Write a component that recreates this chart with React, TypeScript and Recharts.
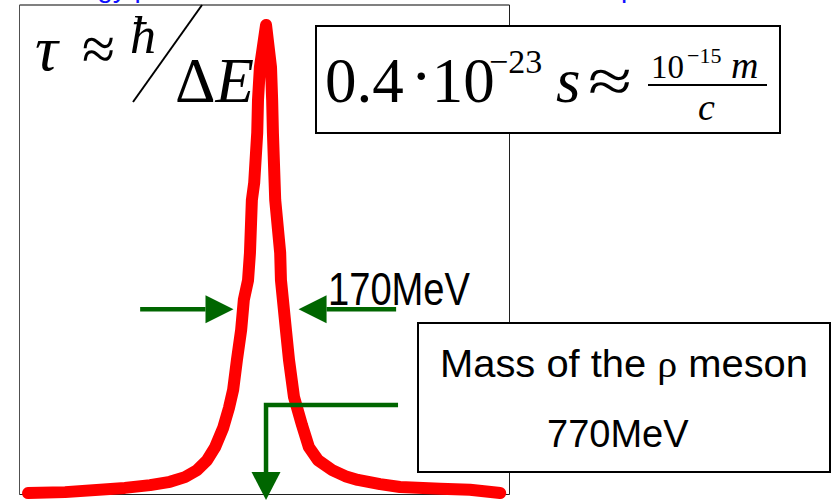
import React from 'react';
import { LineChart, Line, XAxis, YAxis, ReferenceLine } from 'recharts';

// Resonance line shape of the rho meson: invariant mass (MeV) vs. relative intensity
const massMeV = [
  148, 245, 401, 467, 519, 558, 590, 616, 637, 658, 673, 684, 694, 705, 712, 723,
  728, 733, 739, 747, 749, 754, 770,
  783, 786, 788, 794, 807, 809, 822, 830, 843, 864, 882, 906, 943, 977, 1010, 1068,
  1120, 1225, 1303, 1382,
];
const intensity = [
  0.002, 0.004, 0.013, 0.019, 0.026, 0.036, 0.051, 0.072, 0.1, 0.141, 0.183, 0.222,
  0.286, 0.35, 0.414, 0.456, 0.514, 0.627, 0.663, 0.77, 0.84, 0.91, 1.0,
  0.91, 0.84, 0.77, 0.627, 0.514, 0.456, 0.35, 0.286, 0.207, 0.147, 0.1, 0.072,
  0.051, 0.038, 0.03, 0.021, 0.015, 0.011, 0.009, 0.002,
];

// Annotated quantities
const peakMass = 770; // MeV
const width = 170; // MeV (full width)
const widthLevel = 0.394;
const widthArrowStart = [441, 1110];
const massArrowCorner = { mass: 1115, level: 0.19 };
const massArrowTip = -0.0128;

const massDomain = [127, 1405];

const data = massMeV.map((m, i) => ({ mass: m, intensity: intensity[i] }));

const W = 831;
const H = 500;
const GREEN = '#006600';
const HEAD_LEN = 28;
const HEAD_HALF = 14;

const StraightArrow = (p: any) => {
  const { x1, y1, x2, y2 } = p;
  const dx = x2 - x1;
  const dy = y2 - y1;
  const len = Math.hypot(dx, dy) || 1;
  const ux = dx / len;
  const uy = dy / len;
  const bx = x2 - ux * HEAD_LEN;
  const by = y2 - uy * HEAD_LEN;
  return (
    <g>
      <line x1={x1} y1={y1} x2={bx} y2={by} stroke={GREEN} strokeWidth={4.5} />
      <polygon
        points={`${x2},${y2} ${bx - uy * HEAD_HALF},${by + ux * HEAD_HALF} ${bx + uy * HEAD_HALF},${by - ux * HEAD_HALF}`}
        fill={GREEN}
      />
    </g>
  );
};

const ElbowArrow = (p: any) => {
  const { x1, y1, x2, y2 } = p;
  const by = y2 - HEAD_LEN;
  return (
    <g>
      <path d={`M${x1},${y1} H${x2} V${by}`} fill="none" stroke={GREEN} strokeWidth={4.5} />
      <polygon points={`${x2},${y2} ${x2 - HEAD_HALF - 0.5},${by} ${x2 + HEAD_HALF + 0.5},${by}`} fill={GREEN} />
    </g>
  );
};

const serif = '"Liberation Serif", "Times New Roman", serif';
const sans = '"Liberation Sans", Arial, Helvetica, sans-serif';

export default function App() {
  return (
    <div style={{ position: 'absolute', left: 0, top: 0, width: W, height: H, background: '#fff', overflow: 'hidden' }}>
      {/* slide frame under the curve */}
      <svg width={W} height={H} style={{ position: 'absolute', left: 0, top: 0 }}>
        <text x={38} y={-3} fill="#1010ff" fontFamily={sans} fontSize={28}>
          Energy peak width and lifetime of the
        </text>
        <text x={621} y={-3} fill="#1010ff" fontFamily={sans} fontSize={28}>
          particle
        </text>
        <line x1={19.5} y1={5} x2={509.5} y2={5} stroke="#808080" strokeWidth={2} />
        <line x1={19.5} y1={5} x2={19.5} y2={494.5} stroke="#505050" strokeWidth={1} />
        <line x1={509.5} y1={5} x2={509.5} y2={494.5} stroke="#202020" strokeWidth={1} />
        <line x1={19.5} y1={494.5} x2={509.5} y2={494.5} stroke="#202020" strokeWidth={1} />
      </svg>
      <div style={{ position: 'absolute', left: 0, top: 0 }}>
        <LineChart width={W} height={H} data={data} margin={{ top: 25, right: 322, bottom: 6, left: 20 }}>
          <XAxis type="number" dataKey="mass" domain={massDomain} hide />
          <YAxis type="number" domain={[0, 1]} hide />
          <Line
            type="linear"
            dataKey="intensity"
            stroke="#ff0000"
            strokeWidth={12}
            strokeLinejoin="round"
            strokeLinecap="round"
            dot={false}
            activeDot={false}
            isAnimationActive={false}
          />
          <ReferenceLine
            segment={[
              { x: widthArrowStart[0], y: widthLevel },
              { x: peakMass - width / 2, y: widthLevel },
            ]}
            ifOverflow="visible"
            shape={StraightArrow}
          />
          <ReferenceLine
            segment={[
              { x: widthArrowStart[1], y: widthLevel },
              { x: peakMass + width / 2, y: widthLevel },
            ]}
            ifOverflow="visible"
            shape={StraightArrow}
          />
          <ReferenceLine
            segment={[
              { x: massArrowCorner.mass, y: massArrowCorner.level },
              { x: peakMass, y: massArrowTip },
            ]}
            ifOverflow="visible"
            shape={ElbowArrow}
          />
        </LineChart>
      </div>
      {/* formulas and captions */}
      <svg width={W} height={H} style={{ position: 'absolute', left: 0, top: 0, pointerEvents: 'none' }}>
        <g fontFamily={serif} fill="#000">
          <text x={35} y={70} fontSize={64} fontStyle="italic">τ</text>
          <text x={82} y={70} fontSize={63} textLength={33} lengthAdjust="spacingAndGlyphs">≈</text>
          <text x={130} y={53} fontSize={52} fontStyle="italic">ħ</text>
          <line x1={133} y1={102} x2={202} y2={5} stroke="#000" strokeWidth={2} />
          <text x={175} y={102} fontSize={63}>
            Δ<tspan fontStyle="italic">E</tspan>
          </text>
        </g>

        <rect x={316} y={26} width={464} height={107} fill="#fff" stroke="#000" strokeWidth={2} />
        <g fontFamily={serif} fill="#000">
          <text x={325} y={102} fontSize={63}>
            0.4<tspan dx={7} dy={-5}>·</tspan>
            <tspan dx={0} dy={5}>10</tspan>
          </text>
          <text x={489} y={73} fontSize={34}>−23</text>
          <text x={556} y={102} fontSize={63} fontStyle="italic">s</text>
          <text x={588} y={102} fontSize={63} textLength={44} lengthAdjust="spacingAndGlyphs">≈</text>
          <line x1={648} y1={85} x2={767} y2={85} stroke="#000" strokeWidth={2} />
          <text x={651} y={78} fontSize={33}>10</text>
          <text x={687} y={63} fontSize={22}>−15</text>
          <text x={731} y={78} fontSize={38} fontStyle="italic">m</text>
          <text x={698} y={120} fontSize={38} fontStyle="italic">c</text>
        </g>

        <text x={328} y={305} fontFamily={sans} fontSize={46} textLength={142} lengthAdjust="spacingAndGlyphs" fill="#000">
          170MeV
        </text>

        <rect x={418} y={323} width={412} height={149} fill="#fff" stroke="#000" strokeWidth={2} />
        <text x={440} y={377} fontFamily={sans} fontSize={38} textLength={368} lengthAdjust="spacingAndGlyphs" fill="#000">
          Mass of the <tspan fontFamily={serif}>ρ</tspan> meson
        </text>
        <text x={547} y={447} fontFamily={sans} fontSize={38} fill="#000">
          770MeV
        </text>
      </svg>
    </div>
  );
}
